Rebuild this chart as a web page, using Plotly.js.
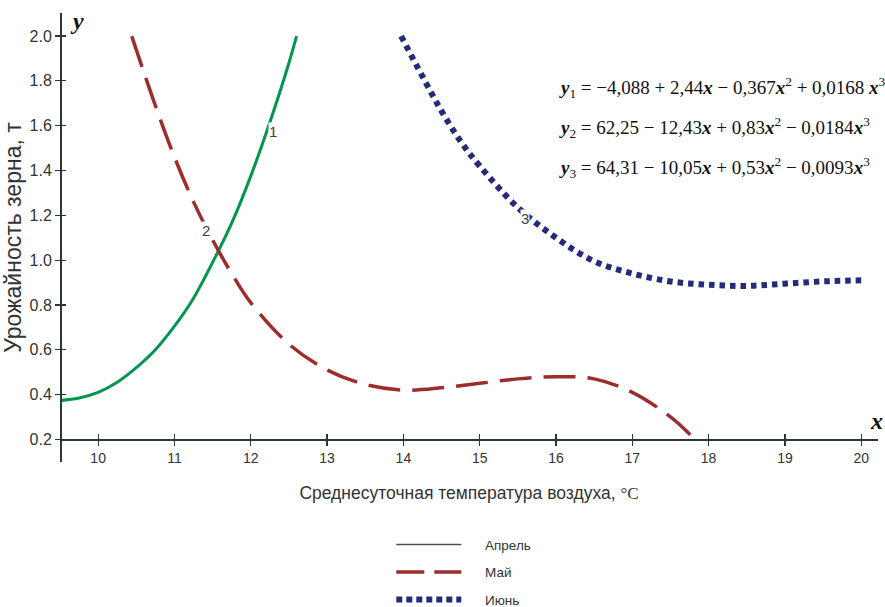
<!DOCTYPE html>
<html>
<head>
<meta charset="utf-8">
<script src="https://cdn.plot.ly/plotly-3.0.1.min.js"></script>
<style>html,body{margin:0;padding:0;background:#fff;}</style>
</head>
<body>
<div id="chart" style="width:885px;height:607px;"></div>
<script>
// ---- data ----
const aprX = [9.5, 9.75, 10, 10.25, 10.5, 10.75, 11, 11.25, 11.5, 11.75, 12, 12.25, 12.5, 12.6];
const aprY = [0.374, 0.385, 0.41, 0.455, 0.52, 0.60, 0.705, 0.83, 0.99, 1.165, 1.375, 1.615, 1.88, 2.0];

const mayX = [10.44, 10.75, 11, 11.25, 11.5, 11.75, 12, 12.5, 13, 13.5, 14, 14.5, 15, 15.5, 16, 16.5, 17, 17.5, 17.82];
const mayY = [2.0, 1.69, 1.46, 1.26, 1.09, 0.94, 0.81, 0.625, 0.51, 0.445, 0.42, 0.43, 0.45, 0.47, 0.48, 0.47, 0.41, 0.30, 0.2];

const junX = [13.97, 14.25, 14.5, 14.75, 15, 15.5, 16, 16.5, 17, 17.5, 18, 18.5, 19, 19.5, 20];
const junY = [2.0, 1.82, 1.665, 1.53, 1.42, 1.235, 1.10, 0.995, 0.94, 0.905, 0.89, 0.885, 0.895, 0.905, 0.91];

const seriesNames = ['Апрель', 'Май', 'Июнь'];
const xTicks = [10, 11, 12, 13, 14, 15, 16, 17, 18, 19, 20];
const yTicks = [0.2, 0.4, 0.6, 0.8, 1.0, 1.2, 1.4, 1.6, 1.8, 2.0];
const yTickText = ['0.2', '0.4', '0.6', '0.8', '1.0', '1.2', '1.4', '1.6', '1.8', '2.0'];
const curveLabels = [
  {text: '1', x: 12.29, y: 1.576},
  {text: '2', x: 11.41, y: 1.134},
  {text: '3', x: 15.60, y: 1.185}
];
const equations = [
  '<b><i>y</i></b><sub>1</sub> = −4,088 + 2,44<b><i>x</i></b> − 0,367<b><i>x</i></b><sup>2</sup> + 0,0168 <b><i>x</i></b><sup>3</sup>',
  '<b><i>y</i></b><sub>2</sub> = 62,25 − 12,43<b><i>x</i></b> + 0,83<b><i>x</i></b><sup>2</sup> − 0,0184<b><i>x</i></b><sup>3</sup>',
  '<b><i>y</i></b><sub>3</sub> = 64,31 − 10,05<b><i>x</i></b> + 0,53<b><i>x</i></b><sup>2</sup> − 0,0093<b><i>x</i></b><sup>3</sup>'
];

// ---- styling ----
const GREEN = 'rgb(0,150,78)';
const RED = 'rgb(155,45,45)';
const BLUE = 'rgb(38,42,122)';
const AXIS = '#2f3539';
const SANS = '"Liberation Sans", Arial, sans-serif';
const SERIF = '"Liberation Serif", "Times New Roman", serif';
const PAD = '\u00A0\u00A0\u00A0\u00A0\u00A0';

const xRange = [9.5, 20.22];
const yRange = [0.099, 2.103];
const xPos = (0.2 - yRange[0]) / (yRange[1] - yRange[0]);

const traces = [
  {x: aprX, y: aprY, type: 'scatter', mode: 'lines', line: {color: GREEN, width: 3, shape: 'spline', smoothing: 1}, showlegend: false, hoverinfo: 'skip'},
  {x: mayX, y: mayY, type: 'scatter', mode: 'lines', line: {color: RED, width: 3.5, shape: 'spline', smoothing: 1, dash: '32px,12px'}, showlegend: false, hoverinfo: 'skip'},
  {x: junX, y: junY, type: 'scatter', mode: 'lines', line: {color: BLUE, width: 6, shape: 'spline', smoothing: 1, dash: '5.5px,5px'}, showlegend: false, hoverinfo: 'skip'},
  // legend entries
  {x: [null], y: [null], type: 'scatter', mode: 'lines', name: PAD + seriesNames[0], legendgroup: 'a', line: {color: '#4a5056', width: 1.5}},
  {x: [null], y: [null], type: 'scatter', mode: 'lines', name: PAD + seriesNames[1], legendgroup: 'b', line: {color: RED, width: 3.5, dash: '28px,10px'}},
  {x: [null], y: [null], type: 'scatter', mode: 'lines', name: PAD + seriesNames[2], legendgroup: 'c', line: {color: BLUE, width: 6, dash: '6px,4px'}},
  // carrier for the crossing-tick overlay axes
  {x: [null], y: [null], xaxis: 'x2', yaxis: 'y2', type: 'scatter', mode: 'lines', showlegend: false, hoverinfo: 'skip'}
];

const annotations = [];
curveLabels.forEach(l => annotations.push({
  x: l.x, y: l.y, xref: 'x', yref: 'y', text: l.text, showarrow: false,
  font: {family: SANS, size: 15, color: '#3a4046'}, bgcolor: 'white', borderpad: 0
}));
const eqY = [0.833, 0.746, 0.657];
equations.forEach((t, i) => annotations.push({
  x: 0.6076, y: eqY[i], xref: 'paper', yref: 'paper', xanchor: 'left', yanchor: 'middle',
  text: t, showarrow: false, font: {family: SERIF, size: 19, color: '#111'}
}));
annotations.push({x: 0.0208, y: 0.982, xref: 'paper', yref: 'paper', xanchor: 'center', yanchor: 'middle',
  text: '<b><i>y</i></b>', showarrow: false, font: {family: SERIF, size: 24, color: '#111'}});
annotations.push({x: 0.9976, y: 0.0913, xref: 'paper', yref: 'paper', xanchor: 'center', yanchor: 'middle',
  text: '<b><i>x</i></b>', showarrow: false, font: {family: SERIF, size: 24, color: '#111'}});

const layout = {
  width: 885, height: 607,
  margin: {l: 60, r: 7, t: 13, b: 145, pad: 0, autoexpand: false},
  paper_bgcolor: 'white', plot_bgcolor: 'white',
  showlegend: true,
  xaxis: {
    range: xRange, anchor: 'free', position: xPos,
    showline: true, linecolor: AXIS, linewidth: 1.5,
    ticks: 'outside', ticklen: 5, tickwidth: 1.2, tickcolor: AXIS,
    tickvals: xTicks, tickfont: {family: SANS, size: 14, color: '#333'},
    showgrid: false, zeroline: false,
    title: {text: 'Среднесуточная температура воздуха, <span style="font-family:Liberation Serif;font-size:17px">°C</span>',
            font: {family: SANS, size: 17.5, color: '#333'}, standoff: 22}
  },
  xaxis2: {
    range: xRange, overlaying: 'x', anchor: 'free', position: xPos,
    ticks: 'inside', ticklen: 5, tickwidth: 1.2, tickcolor: AXIS,
    tickvals: xTicks, showticklabels: false, showline: false, showgrid: false, zeroline: false
  },
  yaxis: {
    range: yRange, anchor: 'free', position: 0,
    showline: true, linecolor: AXIS, linewidth: 1.5,
    ticks: 'outside', ticklen: 5, tickwidth: 1.2, tickcolor: AXIS,
    tickvals: yTicks, ticktext: yTickText, tickfont: {family: SANS, size: 16, color: '#333'},
    showgrid: false, zeroline: false,
    title: {text: 'Урожайность зерна, т', font: {family: SANS, size: 23, color: '#333'}, standoff: 1}
  },
  yaxis2: {
    range: yRange, overlaying: 'y', anchor: 'free', position: 0, side: 'left',
    ticks: 'inside', ticklen: 5, tickwidth: 1.2, tickcolor: AXIS,
    tickvals: yTicks, showticklabels: false, showline: false, showgrid: false, zeroline: false
  },
  legend: {
    x: 0.405, xanchor: 'left', y: -0.1496, yanchor: 'top',
    orientation: 'v', traceorder: 'grouped', tracegroupgap: 7,
    itemwidth: 65, bgcolor: 'rgba(0,0,0,0)',
    font: {family: SANS, size: 13.5, color: '#333'}
  },
  annotations: annotations
};

Plotly.newPlot('chart', traces, layout, {displayModeBar: false, staticPlot: true});
</script>
</body>
</html>
